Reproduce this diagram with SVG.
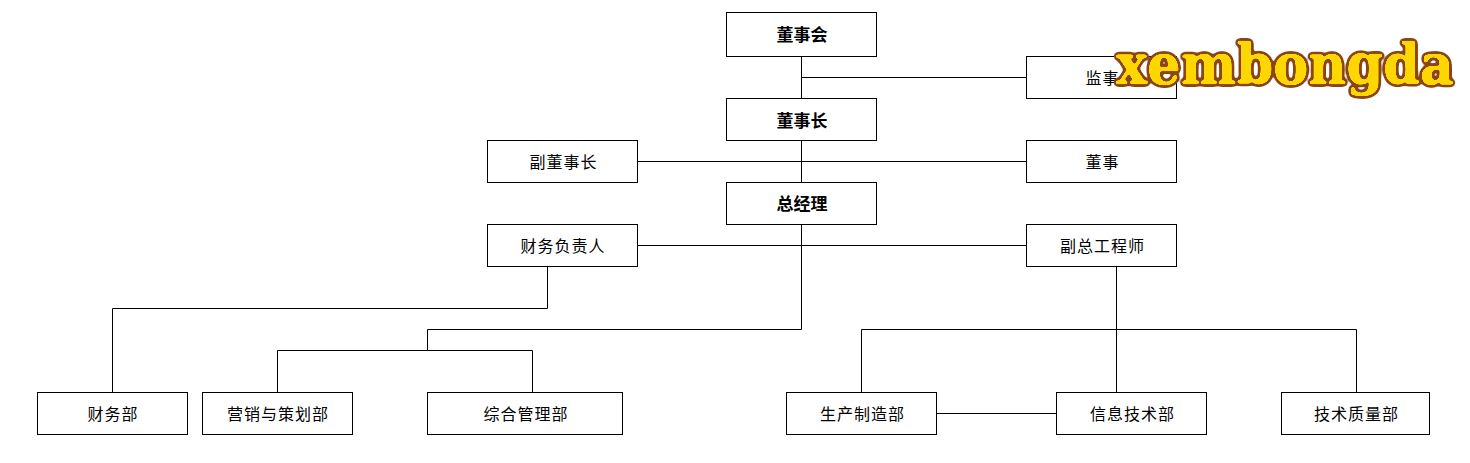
<svg xmlns="http://www.w3.org/2000/svg" width="1470" height="463" viewBox="0 0 1470 463">
<style>
.b{fill:#fff;stroke:#000;stroke-width:1}
.t{font-family:"Noto Sans CJK SC","Liberation Sans",sans-serif;font-size:16px;letter-spacing:1px;text-anchor:middle;fill:#000}
.s{font-weight:700;font-size:17px;letter-spacing:0}
#connectors path{fill:none;stroke:#000;stroke-width:1}
.w{font-family:"DejaVu Serif",serif;font-weight:700;font-size:56px;fill:#ffd700;filter:url(#fat)}
</style>
<defs>
<filter id="fat" x="-5%" y="-20%" width="110%" height="140%" color-interpolation-filters="sRGB">
<feGaussianBlur in="SourceAlpha" stdDeviation="2" result="ob"/>
<feComponentTransfer in="ob" result="o"><feFuncA type="linear" slope="14" intercept="-0.7"/></feComponentTransfer>
<feFlood flood-color="#8b4513"/>
<feComposite in2="o" operator="in" result="outer"/>
<feGaussianBlur in="SourceAlpha" stdDeviation="0.9" result="ib"/>
<feComponentTransfer in="ib" result="i"><feFuncA type="linear" slope="8" intercept="-2.6"/></feComponentTransfer>
<feFlood flood-color="#ffd700"/>
<feComposite in2="i" operator="in" result="inner"/>
<feMerge><feMergeNode in="outer"/><feMergeNode in="inner"/></feMerge>
</filter>
</defs>
<rect width="1470" height="463" fill="#fff"/>
<g id="connectors">
<path d="M801.5 56V98M801.5 77.500H1026M801.500 140V182M638 161.500H1026M801.500 224V329.500H427.500V350.500M638 245.500H1026M547.500 267V308.500H112.500V392M277.500 392V350.500H532.500V392M1116.500 267V392M861.500 392V329.500H1356.500V392M937 413.500H1056"/>
</g>
<g id="n1"><rect class="b" x="726.500" y="12.500" width="150" height="44"/><text class="t s" x="802" y="41">董事会</text></g>
<g id="n2"><rect class="b" x="1026.500" y="56.500" width="150" height="42"/><text class="t" x="1102.500" y="84">监事</text></g>
<g id="n3"><rect class="b" x="726.500" y="98.500" width="150" height="42"/><text class="t s" x="802" y="127">董事长</text></g>
<g id="n4"><rect class="b" x="487.500" y="140.500" width="150" height="42"/><text class="t" x="563.500" y="168">副董事长</text></g>
<g id="n5"><rect class="b" x="1026.500" y="140.500" width="150" height="42"/><text class="t" x="1102.500" y="168">董事</text></g>
<g id="n6"><rect class="b" x="726.500" y="182.500" width="150" height="42"/><text class="t s" x="802" y="210">总经理</text></g>
<g id="n7"><rect class="b" x="487.500" y="224.500" width="150" height="42"/><text class="t" x="563" y="252">财务负责人</text></g>
<g id="n8"><rect class="b" x="1026.500" y="224.500" width="150" height="42"/><text class="t" x="1102.500" y="252">副总工程师</text></g>
<g id="n9"><rect class="b" x="37.500" y="392.500" width="150" height="42"/><text class="t" x="113" y="420">财务部</text></g>
<g id="n10"><rect class="b" x="202.500" y="392.500" width="150" height="42"/><text class="t" x="278" y="420">营销与策划部</text></g>
<g id="n11"><rect class="b" x="427.500" y="392.500" width="195" height="42"/><text class="t" x="526" y="420">综合管理部</text></g>
<g id="n12"><rect class="b" x="786.500" y="392.500" width="150" height="42"/><text class="t" x="862.500" y="420">生产制造部</text></g>
<g id="n13"><rect class="b" x="1056.500" y="392.500" width="150" height="42"/><text class="t" x="1132.500" y="420">信息技术部</text></g>
<g id="n14"><rect class="b" x="1281.500" y="392.500" width="148" height="42"/><text class="t" x="1356.500" y="420">技术质量部</text></g>
<text class="w" x="1116" y="84" textLength="338" lengthAdjust="spacingAndGlyphs">xembongda</text>
</svg>
